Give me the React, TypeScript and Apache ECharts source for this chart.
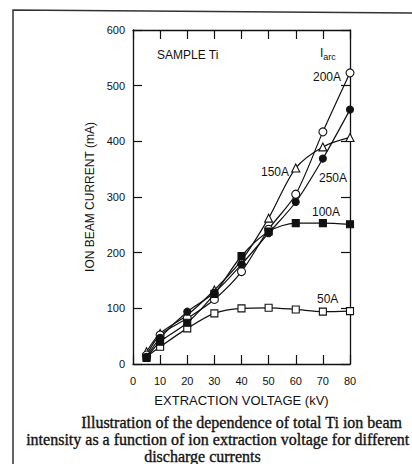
import React, { useEffect, useRef } from "react";
import * as echarts from "echarts";

const voltages = [5, 10, 20, 30, 40, 50, 60, 70, 80];
const current50A = [13, 31, 64, 91, 100, 101, 98, 94, 95];
const current100A = [11, 40, 74, 126, 194, 238, 253, 253, 251];
const current150A = [22, 55, 88, 133, 186, 262, 352, 390, 407];
const current200A = [16, 52, 82, 116, 166, 242, 305, 417, 523];
const current250A = [13, 47, 94, 128, 179, 235, 291, 369, 457];
const xTicks = [0, 10, 20, 30, 40, 50, 60, 70, 80];
const yTicks = [0, 100, 200, 300, 400, 500, 600];

const SANS = "'Liberation Sans', Arial, sans-serif";
const SERIF = "'Liberation Serif', 'Times New Roman', serif";

function pairs(ys: number[]) {
  return voltages.map((v, i) => [v, ys[i]]);
}

export default function App() {
  const ref = useRef<HTMLDivElement>(null);
  useEffect(() => {
    if (!ref.current) return;
    const chart = echarts.init(ref.current, null, { renderer: "svg" });
    const axisLine = { show: true, onZero: false, lineStyle: { color: "#111", width: 1.3 } };
    const tick = { show: true, inside: true, length: 9, lineStyle: { color: "#111", width: 1.2 } };
    const mk = (name: string, ys: number[], symbol: string, filled: boolean, size = 7) => ({
      name,
      type: "line",
      data: pairs(ys),
      smooth: 0.3,
      symbol,
      symbolSize: size,
      showSymbol: true,
      lineStyle: { color: "#111", width: 1.2 },
      itemStyle: {
        color: filled ? "#111" : "#fff",
        borderColor: "#111",
        borderWidth: 1.1,
      },
      z: filled ? 3 : 2,
    });
    const captionStyle = { fill: "#111", stroke: "#111", lineWidth: 0.35 };
    const opt: any = {
      animation: false,
      backgroundColor: "#fff",
      grid: { left: 133, right: 62, top: 30, bottom: 100 },
      xAxis: [
        {
          type: "value",
          min: 0,
          max: 80,
          interval: 10,
          position: "bottom",
          name: "EXTRACTION VOLTAGE (kV)",
          nameLocation: "middle",
          nameGap: 30,
          nameTextStyle: { fontFamily: SANS, fontSize: 13, color: "#111" },
          axisLine,
          axisTick: tick,
          axisLabel: {
            margin: 11,
            fontFamily: SANS,
            fontSize: 11,
            color: "#111",
            formatter: (v: number) => (xTicks.includes(v) ? String(v) : ""),
          },
          splitLine: { show: false },
        },
        {
          type: "value",
          min: 0,
          max: 80,
          interval: 10,
          position: "top",
          axisLine,
          axisTick: tick,
          axisLabel: { show: false },
          splitLine: { show: false },
        },
      ],
      yAxis: [
        {
          type: "value",
          min: 0,
          max: 600,
          interval: 100,
          position: "left",
          name: "ION BEAM CURRENT (mA)",
          nameLocation: "middle",
          nameGap: 37,
          nameRotate: 90,
          nameTextStyle: { fontFamily: SANS, fontSize: 12, color: "#111" },
          axisLine,
          axisTick: tick,
          axisLabel: {
            margin: 8,
            fontFamily: SANS,
            fontSize: 11,
            color: "#111",
            formatter: (v: number) => (yTicks.includes(v) ? String(v) : ""),
          },
          splitLine: { show: false },
        },
        {
          type: "value",
          min: 0,
          max: 600,
          interval: 100,
          position: "right",
          axisLine,
          axisTick: tick,
          axisLabel: { show: false },
          splitLine: { show: false },
        },
      ],
      series: [
        mk("50A", current50A, "rect", false, 7),
        mk("100A", current100A, "rect", true, 7),
        mk("150A", current150A, "triangle", false, 8),
        mk("200A", current200A, "circle", false, 8),
        mk("250A", current250A, "circle", true, 7),
      ],
      graphic: [
        {
          type: "polyline",
          shape: { points: [[13, 464], [13, 10], [412, 13]] },
          style: { stroke: "#333", lineWidth: 1.5, fill: "none" },
          silent: true,
        },
        { type: "text", left: 157, top: 49, style: { text: "SAMPLE Ti", font: `12px ${SANS}`, fill: "#111" } },
        {
          type: "text",
          left: 320,
          top: 47,
          style: {
            text: "{i|I}{s|arc}",
            rich: {
              i: { font: `12px ${SANS}`, fill: "#111" },
              s: { font: `9px ${SANS}`, fill: "#111", padding: [8, 0, 0, 0] },
            },
          },
        },
        { type: "text", left: 313, top: 71, style: { text: "200A", font: `12px ${SANS}`, fill: "#111" } },
        { type: "text", left: 261, top: 166, style: { text: "150A", font: `12px ${SANS}`, fill: "#111" } },
        { type: "text", left: 319, top: 172, style: { text: "250A", font: `12px ${SANS}`, fill: "#111" } },
        { type: "text", left: 312, top: 206, style: { text: "100A", font: `12px ${SANS}`, fill: "#111" } },
        { type: "text", left: 317, top: 293, style: { text: "50A", font: `12px ${SANS}`, fill: "#111" } },
        {
          type: "text",
          left: 81,
          top: 414,
          style: { text: "Illustration of the dependence of total Ti ion beam", font: `16px ${SERIF}`, ...captionStyle },
        },
        {
          type: "text",
          left: 26,
          top: 431,
          style: { text: "intensity as a function of ion extraction voltage for different", font: `16px ${SERIF}`, ...captionStyle },
        },
        {
          type: "text",
          left: 144,
          top: 448,
          style: { text: "discharge currents", font: `16px ${SERIF}`, ...captionStyle },
        },
      ],
    };
    chart.setOption(opt);
    return () => chart.dispose();
  }, []);
  return <div ref={ref} style={{ width: 412, height: 464, position: "absolute", left: 0, top: 0 }} />;
}
